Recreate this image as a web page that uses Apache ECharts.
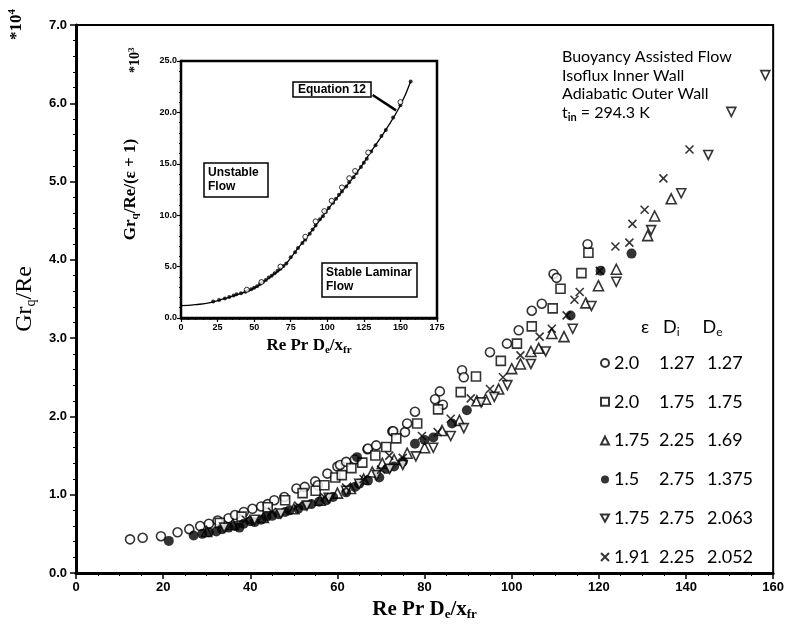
<!DOCTYPE html>
<html>
<head>
<meta charset="utf-8">
<script src="https://cdn.jsdelivr.net/npm/echarts@6/dist/echarts.min.js"></script>
<style>
  html, body { margin: 0; background: #fff; }
  #chart { width: 787px; height: 627px; }
</style>
</head>
<body>
<div id="chart"></div>
<script>
// main plot: Gr_q/Re (*10^4) against Re Pr De/x_fr, one list per geometry
const openCircle = [[12.4,0.43],[15.3,0.45],[19.5,0.47],[23.3,0.52],[26,0.56],[28.5,0.6],[30.5,0.63],[32.5,0.67],[35,0.7],[36.5,0.74],
  [38.5,0.78],[40.5,0.82],[42.5,0.85],[44,0.88],[45.5,0.93],[47.8,0.97],[50.6,1.08],[52.5,1.1],[54.9,1.17],[55.5,1.12],[57.7,1.27],
  [60,1.36],[60.6,1.38],[62,1.42],[64,1.45],[66.9,1.58],[67,1.59],[68.9,1.63],[72.6,1.81],[72.8,1.81],[75.5,1.8],[76,1.91],[77.8,2.06],
  [82.4,2.22],[83.5,2.32],[84.2,2.15],[88.6,2.59],[89,2.5],[95,2.82],[98.9,2.93],[101.6,3.1],[104.6,3.35],[106.9,3.44],[109.6,3.82],
  [110.3,3.77],[117.4,4.2]];
const openSquare = [[33,0.64],[38,0.72],[44,0.84],[48,0.93],[52,1.02],[55,1.05],[57,1.12],[59.5,1.22],[61,1.25],[63.2,1.34],[65.7,1.41],
  [68.7,1.5],[71.2,1.61],[73.5,1.72],[78.3,1.91],[83.1,2.09],[88.3,2.31],[91.8,2.51],[97.5,2.71],[101.2,2.93],[104.6,3.15],[109.4,3.38],
  [111.2,3.63],[116,3.83],[117.6,4.09]];
const upTriangle = [[30,0.53],[36,0.62],[43,0.71],[50,0.82],[56,0.93],[60,1.02],[63,1.08],[66,1.2],[68,1.29],[70.3,1.4],[73,1.45],
  [76,1.53],[80,1.6],[84,1.82],[88,1.95],[92,2.2],[94,2.22],[97,2.35],[100,2.61],[102,2.67],[104.4,2.83],[106.2,2.87],[109.2,3.06],
  [112,3.02],[117,3.45],[119.9,3.67],[124,3.88],[131.2,4.31],[132.8,4.56],[136.6,4.78]];
const filledCircle = [[21.3,0.41],[27,0.48],[29,0.5],[30.5,0.52],[32.2,0.53],[33.5,0.56],[35,0.58],[36.5,0.6],[37.5,0.58],[38.5,0.63],
  [40,0.66],[41,0.65],[42.5,0.68],[43.7,0.72],[45,0.73],[46.5,0.75],[48,0.78],[49,0.8],[51,0.82],[52.5,0.86],[54,0.88],[55.8,0.91],
  [57.5,0.93],[59,0.97],[62,1.03],[64,1.1],[65,1.14],[64.5,1.48],[67,1.18],[69.6,1.22],[71.4,1.33],[73,1.36],[75,1.42],[77.8,1.65],
  [80,1.7],[82,1.73],[86.3,1.91],[89.7,2.08],[113.5,3.29],[120.4,3.86],[127.5,4.08]];
const downTriangle = [[34,0.58],[41,0.68],[47,0.76],[53,0.86],[58,0.96],[62,1.05],[65,1.14],[69,1.25],[72,1.33],[75,1.38],[78,1.49],
  [82,1.6],[86,1.75],[89,1.85],[93,2.18],[96,2.25],[99,2.4],[104.4,2.67],[107.8,2.83],[114,3.12],[118.3,3.41],[124,3.72],[132,4.38],
  [138.9,4.85],[145.1,5.34],[150.4,5.89],[158.2,6.36]];
const cross = [[39,0.68],[45,0.78],[51,0.86],[57,0.97],[62,1.09],[66,1.2],[70,1.32],[71.9,1.5],[75,1.47],[79.4,1.75],[83,1.8],[86,1.97],
  [90.6,2.23],[95,2.35],[98,2.5],[102,2.78],[106.4,3.02],[109.2,3.12],[112.6,3.29],[114.4,3.49],[115.6,3.59],[120.2,3.86],[123.8,4.17],
  [127,4.22],[127.7,4.46],[130.5,4.64],[134.8,5.04],[140.8,5.41]];

// legend rows: epsilon, Di, De
const legendRows = ['2.0 1.27 1.27', '2.0 1.75 1.75', '1.75 2.25 1.69', '1.5 2.75 1.375', '1.75 2.75 2.063', '1.91 2.25 2.052'];

// inset: Gr_q/Re/(eps+1) (*10^3), equation 12 curve and collapsed data
const eqX = [0, 10, 20, 30, 40, 50, 60, 70, 80, 90, 100, 110, 120, 130, 140, 150, 157];
const eqY = [1.2, 1.3, 1.5, 1.9, 2.35, 2.9, 3.9, 5.0, 6.8, 8.6, 10.5, 12.3, 14.1, 16.2, 18.3, 20.7, 23.0];
const insetFilled = [[22,1.6],[26,1.75],[30,1.9],[33,2.05],[36,2.2],[38,2.3],[41,2.4],[44,2.55],[46,2.7],[48,2.8],[50,2.95],[52,3.1],
  [54,3.3],[56,3.5],[58,3.7],[60,3.95],[62,4.1],[64,4.35],[66,4.6],[68,4.8],[70,5.05],[72,5.3],[75,5.9],[78,6.4],[80,6.8],[83,7.3],
  [85,7.6],[88,8.2],[90,8.6],[92,9.0],[95,9.6],[97,9.9],[99,10.3],[101,10.7],[104,11.2],[106,11.6],[108,12.0],[110,12.3],[113,12.8],
  [115,13.2],[118,13.7],[120,14.1],[123,14.7],[125,15.1],[127,15.5],[130,16.2],[133,16.8],[137,17.7],[140,18.3],[145,19.5],[150,20.7],
  [157,23.0]];
const insetOpen = [[45,2.75],[55,3.5],[68,5.0],[85,7.9],[92,9.4],[98,10.4],[103,11.4],[110,12.7],[115,13.6],[119,14.3],[128,16.1],[150,21.0]];

const crossPath = 'path://M0,0L10,10M10,0L0,10';
const downTriPath = 'path://M0,0L10,0L5,9Z';
const tickFont = { fontFamily: 'Liberation Sans', fontWeight: 'bold', color: '#000' };

const chart = echarts.init(document.getElementById('chart'));

function mainSeries(name, data, symbol, filled, size) {
  return {
    name: name, type: 'scatter', xAxisIndex: 0, yAxisIndex: 0,
    data: data, symbol: symbol, symbolSize: size,
    itemStyle: {
      color: filled ? '#000' : (symbol === crossPath ? 'transparent' : '#fff'),
      borderColor: '#000', borderWidth: filled ? 0 : 1.6
    }
  };
}

const option = {
  backgroundColor: '#fff',
  animation: false,
  title: [
    {
      text: 'Buoyancy Assisted Flow\nIsoflux Inner Wall\nAdiabatic Outer Wall\nt{s|in} = 294.3 K',
      left: 562, top: 48, padding: 0,
      textStyle: {
        fontFamily: 'Lato', fontSize: 16, fontWeight: 'normal', color: '#000', lineHeight: 18.5,
        rich: { s: { fontFamily: 'Lato', fontSize: 11, fontWeight: 'bold', padding: [9, 0, 0, 0], lineHeight: 18.5 } }
      }
    },
    {
      text: 'Equation 12', left: 293, top: 82, padding: [2, 5, 1, 5],
      borderColor: '#000', borderWidth: 1.5, backgroundColor: '#fff',
      textStyle: { fontFamily: 'Liberation Sans', fontSize: 12, fontWeight: 'bold', color: '#000' }
    },
    {
      text: 'Unstable\nFlow', left: 204, top: 163, padding: [3, 10, 3, 4],
      borderColor: '#000', borderWidth: 1.5, backgroundColor: '#fff',
      textStyle: { fontFamily: 'Liberation Sans', fontSize: 12, fontWeight: 'bold', color: '#000', lineHeight: 14 }
    },
    {
      text: 'Stable Laminar\nFlow', left: 322, top: 263, padding: [3, 5, 3, 4],
      borderColor: '#000', borderWidth: 1.5, backgroundColor: '#fff',
      textStyle: { fontFamily: 'Liberation Sans', fontSize: 12, fontWeight: 'bold', color: '#000', lineHeight: 14 }
    }
  ],
  legend: {
    orient: 'vertical', left: 595, top: 348,
    itemWidth: 8, itemHeight: 8, itemGap: 18.8,
    selectedMode: false,
    data: legendRows,
    formatter: function (name) {
      const p = name.split(' ');
      return '{a|' + p[0] + '}{b|' + p[1] + '}{c|' + p[2] + '}';
    },
    textStyle: {
      fontFamily: 'Lato', fontSize: 18, color: '#000', lineHeight: 20,
      rich: {
        a: { width: 45, fontFamily: 'Lato', fontSize: 18 },
        b: { width: 48, fontFamily: 'Lato', fontSize: 18 },
        c: { width: 50, fontFamily: 'Lato', fontSize: 18 }
      }
    }
  },
  graphic: [
    {
      type: 'text', x: 7, y: 40, rotation: Math.PI / 2,
      style: {
        text: '*10{p|4}', fill: '#000',
        font: 'bold 17px "Liberation Serif"',
        rich: { p: { fontSize: 11, fontFamily: 'Liberation Serif', fontWeight: 'bold', padding: [0, 0, 9, 0] } }
      }
    },
    {
      type: 'text', x: 127, y: 73, rotation: Math.PI / 2,
      style: {
        text: '*10{p|3}', fill: '#000',
        font: 'bold 14px "Liberation Serif"',
        rich: { p: { fontSize: 9, fontFamily: 'Liberation Serif', fontWeight: 'bold', padding: [0, 0, 7, 0] } }
      }
    },
    {
      type: 'text', x: 641, y: 316,
      style: {
        text: '\u03b5   D{s|i}     D{s|e}', fill: '#000',
        font: '18px Lato',
        rich: { s: { fontSize: 12, fontFamily: 'Lato', padding: [10, 0, 0, 0] } }
      }
    }
  ],
  grid: [
    { left: 76, top: 25, width: 699, height: 548, show: true, borderColor: '#000', borderWidth: 2, backgroundColor: 'transparent' },
    { left: 181, top: 61, width: 256, height: 257, show: true, borderColor: '#000', borderWidth: 2.5, backgroundColor: '#fff', z: 3 }
  ],
  xAxis: [
    {
      gridIndex: 0, type: 'value', min: 0, max: 160, interval: 20,
      name: '{n|Re Pr D}{s|e}{n|/x}{s|fr}', nameLocation: 'middle', nameGap: 21,
      nameTextStyle: {
        rich: {
          n: { fontFamily: 'Liberation Serif', fontSize: 21, fontWeight: 'bold', color: '#000' },
          s: { fontFamily: 'Liberation Serif', fontSize: 13, fontWeight: 'bold', color: '#000', padding: [11, 0, 0, 0] }
        }
      },
      axisLine: { lineStyle: { color: '#000', width: 3 } },
      axisTick: { inside: false, length: 6, lineStyle: { width: 1.5 } },
      minorTick: { show: true, splitNumber: 4, length: 3, lineStyle: { color: '#000' } },
      splitLine: { show: false },
      axisLabel: Object.assign({ fontSize: 13, margin: 8 }, tickFont)
    },
    {
      gridIndex: 1, type: 'value', min: 0, max: 175, interval: 25,
      name: '{n|Re Pr D}{s|e}{n|/x}{s|fr}', nameLocation: 'middle', nameGap: 18,
      nameTextStyle: {
        rich: {
          n: { fontFamily: 'Liberation Serif', fontSize: 17, fontWeight: 'bold', color: '#000' },
          s: { fontFamily: 'Liberation Serif', fontSize: 11, fontWeight: 'bold', color: '#000', padding: [9, 0, 0, 0] }
        }
      },
      axisLine: { lineStyle: { color: '#000', width: 2.5 } },
      axisTick: { inside: false, length: 4, lineStyle: { width: 1.2 } },
      minorTick: { show: true, splitNumber: 5, length: 2, lineStyle: { color: '#000' } },
      splitLine: { show: false },
      axisLabel: Object.assign({ fontSize: 9, margin: 5 }, tickFont)
    }
  ],
  yAxis: [
    {
      gridIndex: 0, type: 'value', min: 0, max: 7, interval: 1,
      name: '{n|Gr}{s|q}{n|/Re}', nameLocation: 'middle', nameGap: 36,
      nameTextStyle: {
        rich: {
          n: { fontFamily: 'Liberation Serif', fontSize: 24, color: '#000' },
          s: { fontFamily: 'Liberation Serif', fontSize: 14, color: '#000', padding: [12, 0, 0, 0] }
        }
      },
      axisLine: { lineStyle: { color: '#000', width: 3 } },
      axisTick: { inside: false, length: 6, lineStyle: { width: 1.5 } },
      minorTick: { show: true, splitNumber: 5, length: 3, lineStyle: { color: '#000' } },
      splitLine: { show: false },
      axisLabel: Object.assign({ fontSize: 13, margin: 9, formatter: v => v.toFixed(1) }, tickFont)
    },
    {
      gridIndex: 1, type: 'value', min: 0, max: 25, interval: 5,
      name: '{n|Gr}{s|q}{n|/Re/(\u03b5 + 1)}', nameLocation: 'middle', nameGap: 40,
      nameTextStyle: {
        rich: {
          n: { fontFamily: 'Liberation Serif', fontSize: 17, fontWeight: 'bold', color: '#000' },
          s: { fontFamily: 'Liberation Serif', fontSize: 11, fontWeight: 'bold', color: '#000', padding: [9, 0, 0, 0] }
        }
      },
      axisLine: { lineStyle: { color: '#000', width: 2.5 } },
      axisTick: { inside: false, length: 4, lineStyle: { width: 1.2 } },
      minorTick: { show: true, splitNumber: 5, length: 2, lineStyle: { color: '#000' } },
      splitLine: { show: false },
      axisLabel: Object.assign({ fontSize: 9, margin: 4, formatter: v => v.toFixed(1) }, tickFont)
    }
  ],
  series: [
    mainSeries(legendRows[0], openCircle, 'circle', false, 9),
    mainSeries(legendRows[1], openSquare, 'rect', false, 9),
    mainSeries(legendRows[2], upTriangle, 'triangle', false, 10),
    mainSeries(legendRows[3], filledCircle, 'circle', true, 10),
    mainSeries(legendRows[4], downTriangle, downTriPath, false, 9),
    mainSeries(legendRows[5], cross, crossPath, false, 8),
    {
      name: 'Equation 12', type: 'line', xAxisIndex: 1, yAxisIndex: 1, z: 5,
      data: eqX.map((x, i) => [x, eqY[i]]),
      symbol: 'none', smooth: true,
      lineStyle: { color: '#000', width: 1.3 },
      markLine: {
        silent: true, symbol: ['none', 'arrow'], symbolSize: [0, 11],
        lineStyle: { color: '#000', width: 2.5, type: 'solid' },
        label: { show: false },
        data: [[{ coord: [131, 21.7] }, { coord: [147, 20.2] }]]
      }
    },
    {
      type: 'scatter', xAxisIndex: 1, yAxisIndex: 1, z: 5,
      data: insetFilled, symbol: 'circle', symbolSize: 4,
      itemStyle: { color: '#000' }
    },
    {
      type: 'scatter', xAxisIndex: 1, yAxisIndex: 1, z: 5,
      data: insetOpen, symbol: 'circle', symbolSize: 5,
      itemStyle: { color: '#fff', borderColor: '#000', borderWidth: 1 }
    }
  ]
};

chart.setOption(option);
</script>
</body>
</html>
